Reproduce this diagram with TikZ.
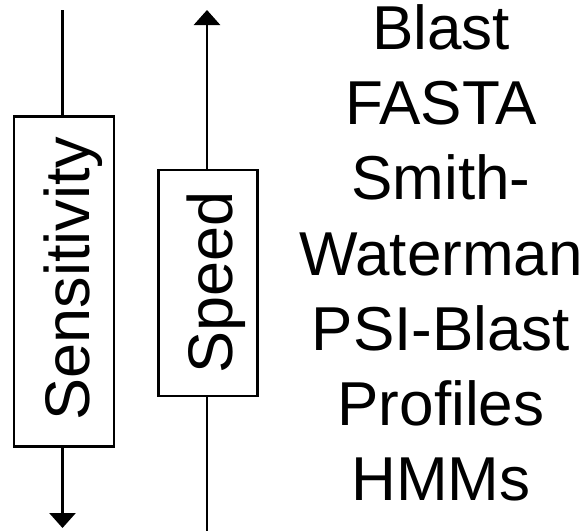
\documentclass[tikz,border=0pt]{standalone}
\usepackage{fontspec}
\setmainfont{Liberation Sans}
\usetikzlibrary{arrows.meta}
\begin{document}
\begin{tikzpicture}[x=1pt,y=-1pt,
  ln/.style={line width=2.8pt},
  boxnode/.style={draw,line width=2.8pt,inner sep=0pt,outer sep=0pt},
  vtext/.style={rotate=90,anchor=base,inner sep=0pt,font=\fontsize{63}{70}\selectfont},
  rtext/.style={anchor=base,inner sep=0pt,font=\fontsize{62}{70}\selectfont},
  tip/.style={-{Triangle[width=26pt,length=15pt]}}]
\useasboundingbox (0,0) rectangle (587,531);
% left: sensitivity
\node[boxnode,minimum width=100pt,minimum height=330pt] (sens) at (64,281.7) {};
\node[vtext] (senst) at (89,278.5) {Sensitivity};
\coordinate (stop) at (62.5,10);
\coordinate (sbot) at (62.5,528);
\draw[ln] (stop) -- (sens.north -| stop);
\draw[ln,tip] (sens.south -| sbot) -- (sbot);
% speed
\node[boxnode,minimum width=99pt,minimum height=226pt] (speed) at (208.2,283) {};
\node[vtext] (speedt) at (232,282.5) {Speed};
\coordinate (ptop) at (207,10);
\coordinate (pbot) at (207,531);
\draw[ln,tip] (speed.north -| ptop) -- (ptop);
\draw[ln] (speed.south -| pbot) -- (pbot);
% list
\node[rtext] (t1) at (441,49.1) {Blast};
\node[rtext] (t2) at (441,124.4) {FASTA};
\node[rtext] (t3) at (441,199.7) {Smith-};
\node[rtext] (t4) at (441,275.0) {Waterman};
\node[rtext] (t5) at (441,350.3) {PSI-Blast};
\node[rtext] (t6) at (441,425.6) {Profiles};
\node[rtext] (t7) at (441,500.9) {HMMs};
\end{tikzpicture}
\end{document}
